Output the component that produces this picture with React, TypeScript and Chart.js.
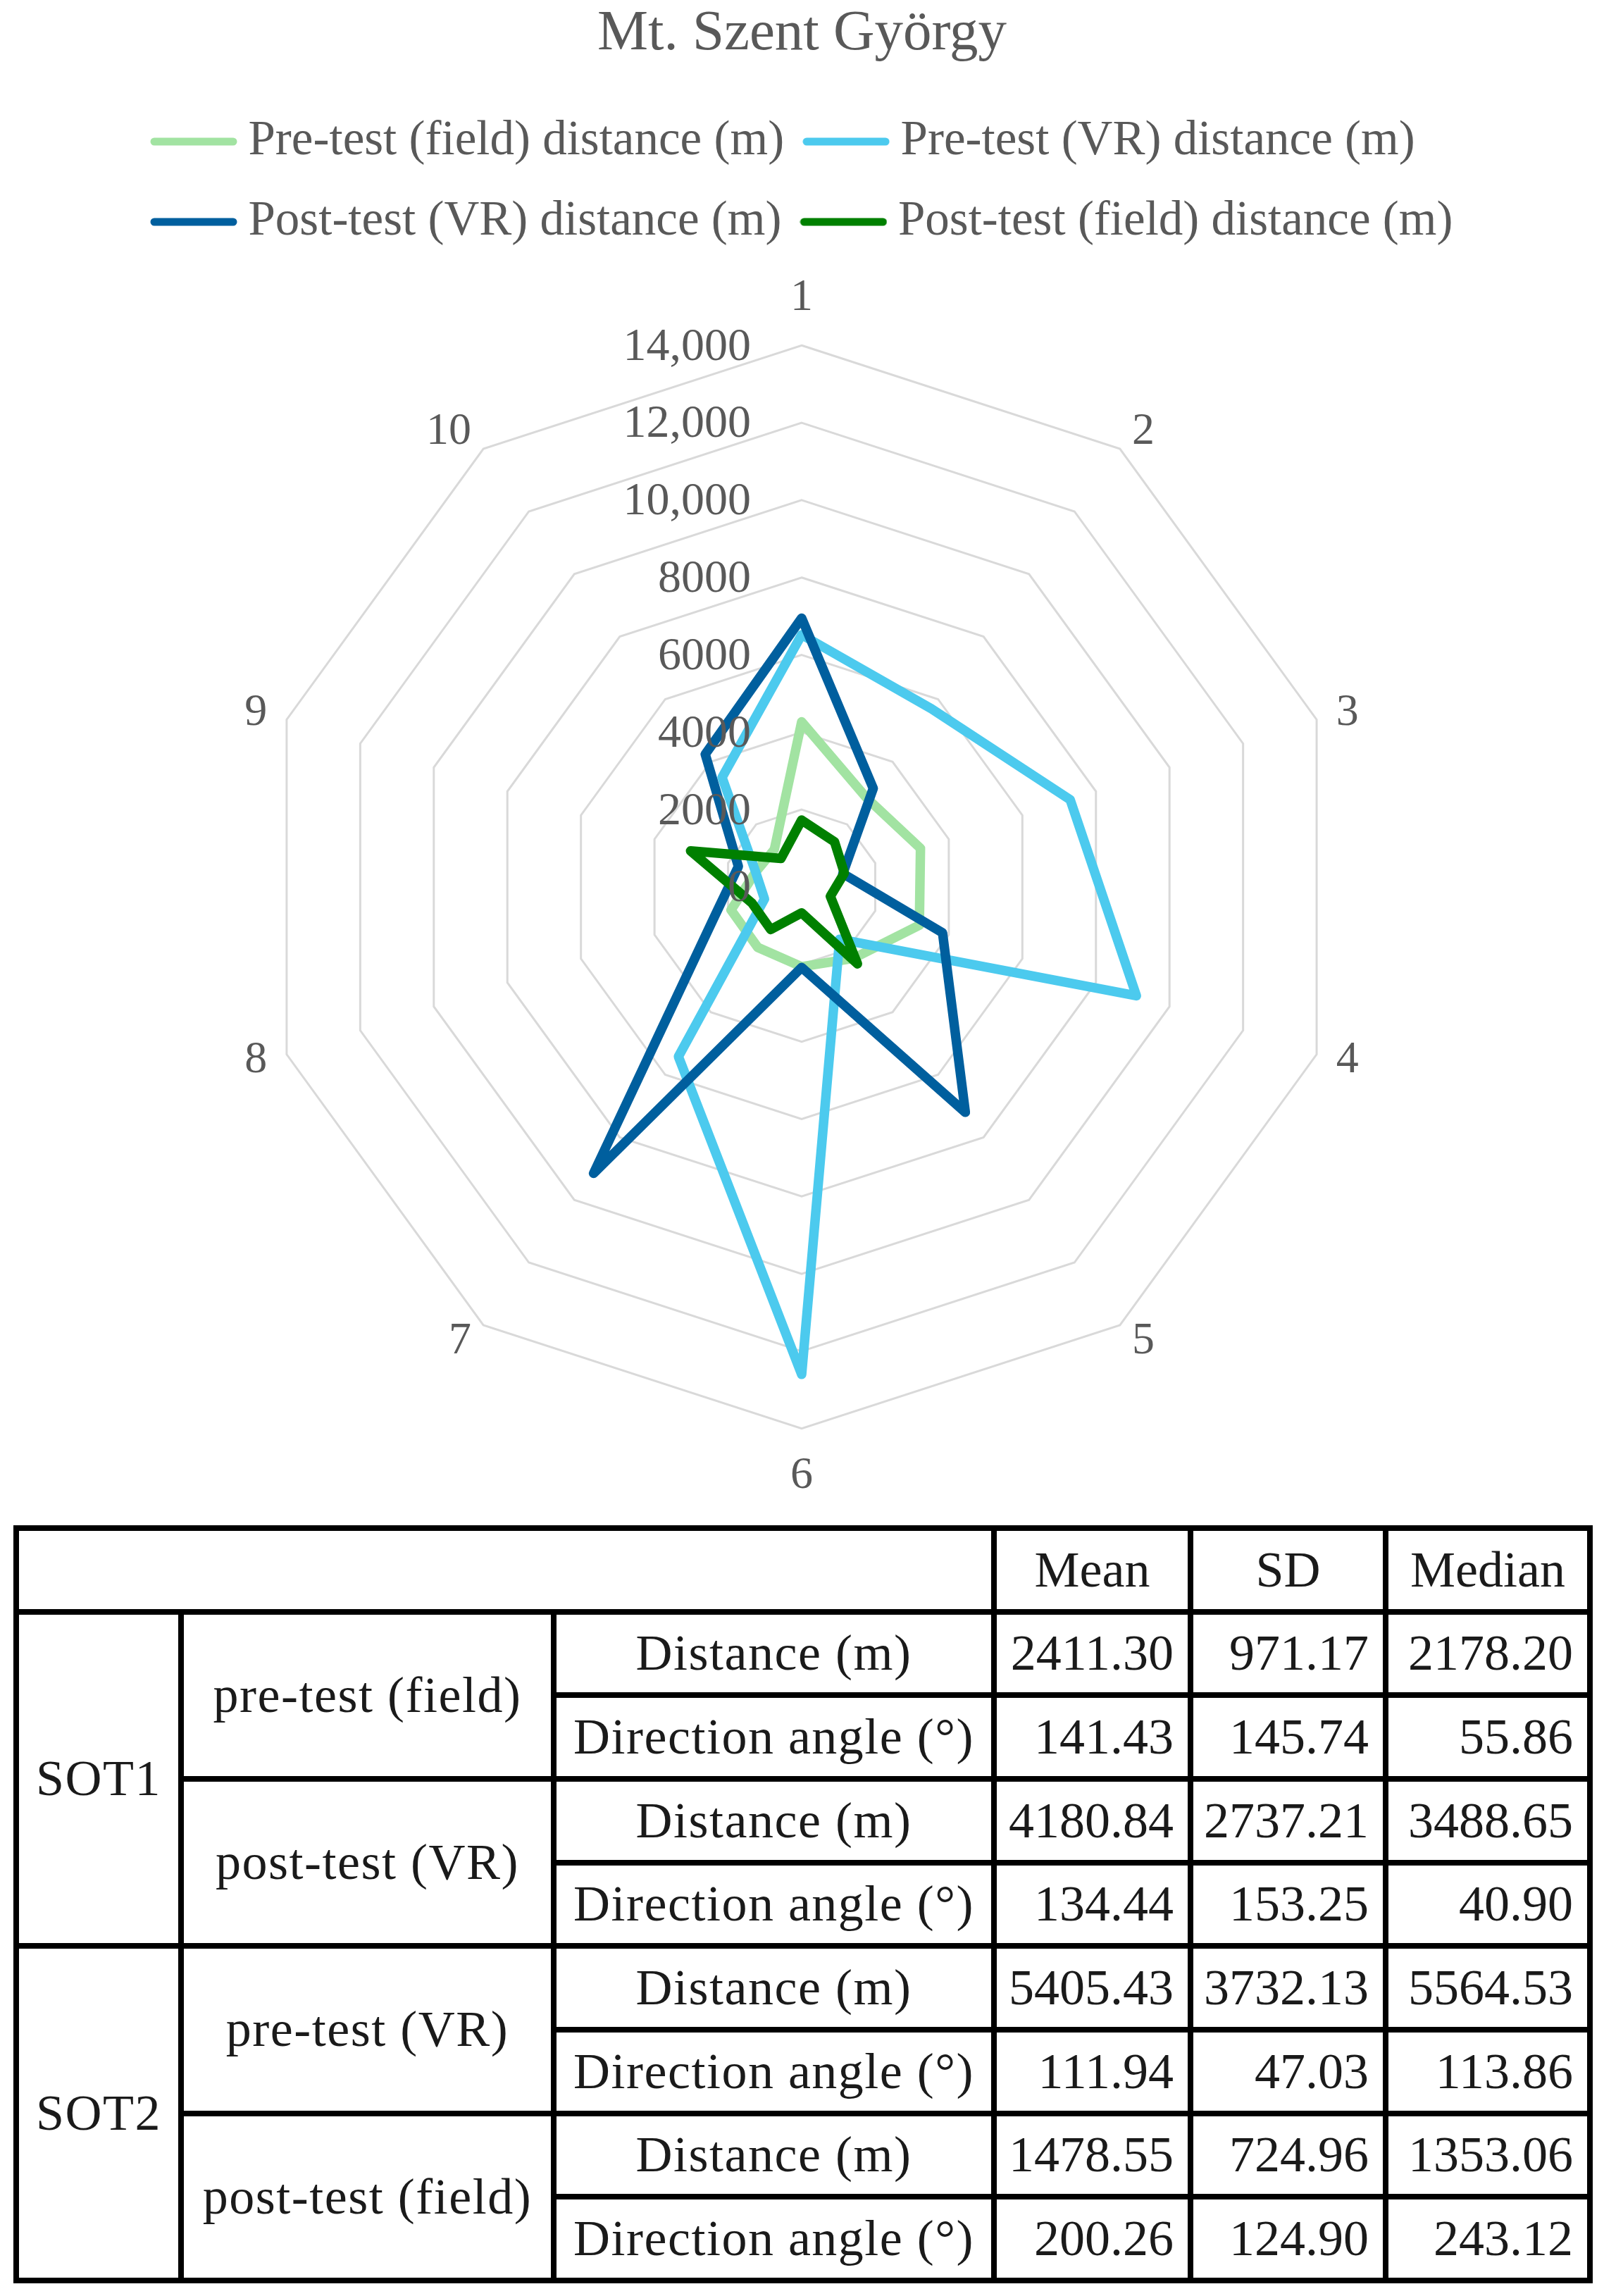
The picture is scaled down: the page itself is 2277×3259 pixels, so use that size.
import React, { useEffect, useRef } from 'react';
import { Chart, registerables } from 'chart.js';

Chart.register(...registerables);

// ---------- chart data ----------
const categories = ['1', '2', '3', '4', '5', '6', '7', '8', '9', '10'];
const seriesNames = [
  'Pre-test (field) distance (m)',
  'Pre-test (VR) distance (m)',
  'Post-test (VR) distance (m)',
  'Post-test (field) distance (m)',
];
const preFieldDistance = [4270, 2850, 3230, 3200, 2280, 2060, 1930, 1920, 1250, 1200];
const preVRDistance = [6520, 5700, 7300, 9100, 1670, 12600, 5420, 1010, 1250, 3500];
const postVRDistance = [6950, 3150, 1120, 3830, 7200, 2080, 9150, 2350, 1720, 4240];
const postFieldDistance = [1730, 1445, 1160, 780, 2455, 670, 1360, 1350, 3020, 910];
const seriesColors = ['#a2e3a2', '#4ccaee', '#005f9e', '#008000'];
const tickLabels = ['0', '2000', '4000', '6000', '8000', '10,000', '12,000', '14,000'];

// ---------- table data ----------
const statHeaders = ['Mean', 'SD', 'Median'];
const sotGroups = ['SOT1', 'SOT2'];
const testNames = ['pre-test (field)', 'post-test (VR)', 'pre-test (VR)', 'post-test (field)'];
const measureNames = ['Distance (m)', 'Direction angle (°)'];
const meanValues = ['2411.30', '141.43', '4180.84', '134.44', '5405.43', '111.94', '1478.55', '200.26'];
const sdValues = ['971.17', '145.74', '2737.21', '153.25', '3732.13', '47.03', '724.96', '124.90'];
const medianValues = ['2178.20', '55.86', '3488.65', '40.90', '5564.53', '113.86', '1353.06', '243.12'];

const FONT = '"Liberation Serif", "Times New Roman", serif';
const GREY = '#595959';

const leftTicksPlugin = {
  id: 'leftTicks',
  afterDatasetsDraw(chart: any) {
    const s = chart.scales.r;
    const ctx = chart.ctx;
    ctx.save();
    ctx.font = '66px "Liberation Serif"';
    ctx.fillStyle = GREY;
    ctx.textAlign = 'right';
    ctx.textBaseline = 'middle';
    s.ticks.forEach((t: any) => {
      const d = s.getDistanceFromCenterForValue(t.value);
      ctx.fillText(String(t.label), s.xCenter - 72, s.yCenter - d + 3);
    });
    ctx.restore();
  },
};

// legend rows start at the same x (grid-like legend as in the reference)
const legendOffsetPlugin = {
  id: 'legendOffset',
  afterLayout(chart: any) {
    if (chart.legend) chart.legend.left = 179;
  },
};

function makeLegendMarker(color: string) {
  const c = document.createElement('canvas');
  c.width = 124;
  c.height = 12;
  const g = c.getContext('2d') as CanvasRenderingContext2D;
  g.strokeStyle = color;
  g.lineWidth = 11;
  g.lineCap = 'round';
  g.beginPath();
  g.moveTo(6, 6);
  g.lineTo(118, 6);
  g.stroke();
  return c;
}

function RadarChart() {
  const ref = useRef<HTMLCanvasElement | null>(null);
  useEffect(() => {
    if (!ref.current) return;
    const values = [preFieldDistance, preVRDistance, postVRDistance, postFieldDistance];
    const chart = new Chart(ref.current, {
      type: 'radar',
      data: {
        labels: categories,
        datasets: values.map((v, i) => ({
          label: seriesNames[i],
          data: v,
          borderColor: seriesColors[i],
          backgroundColor: seriesColors[i],
          borderWidth: 13.5,
          fill: false,
          pointRadius: 0,
          pointHoverRadius: 0,
          pointStyle: makeLegendMarker(seriesColors[i]),
          borderJoinStyle: 'round',
          borderCapStyle: 'round',
          order: 3 - i,
        })),
      },
      options: {
        responsive: true,
        maintainAspectRatio: false,
        animation: false,
        devicePixelRatio: 1,
        layout: { padding: 0 },
        plugins: {
          title: {
            display: true,
            text: 'Mt. Szent György',
            color: GREY,
            font: { family: FONT, size: 81, weight: 'normal', lineHeight: 1 },
            padding: { top: 0, bottom: 32.5 },
          },
          legend: {
            display: true,
            position: 'top',
            align: 'start',
            labels: {
              color: GREY,
              font: { family: FONT, size: 69 },
              usePointStyle: true,
              pointStyleWidth: 86,
              boxHeight: 12,
              padding: 45,
              sort: (a: any, b: any) => a.datasetIndex - b.datasetIndex,
            },
          },
          subtitle: {
            display: true,
            text: '',
            weight: 500,
            font: { size: 1, lineHeight: 1 },
            padding: { top: 0, bottom: 24 },
          },
          tooltip: { enabled: false },
        },
        scales: {
          r: {
            min: 0,
            max: 14000,
            ticks: {
              stepSize: 2000,
              display: false,
              callback: (_v: any, i: number) => tickLabels[i],
            },
            grid: { color: '#d9d9d9', lineWidth: 3 },
            angleLines: { display: false },
            pointLabels: {
              color: GREY,
              font: { family: FONT, size: 64 },
              padding: 29,
            },
            afterFit: (scale: any) => {
              const items = scale._pointLabelItems;
              if (!items) return;
              items.forEach((it: any, i: number) => {
                const deg = Math.round((scale.getIndexAngle(i) * 180) / Math.PI) % 360;
                const h = it.bottom - it.top;
                let dy = 0;
                if ((deg > 0 && deg < 90) || (deg > 270 && deg < 360)) dy = h / 2;
                else if (deg > 90 && deg < 270 && deg !== 180) dy = -h / 2;
                it.y += dy;
                it.top += dy;
                it.bottom += dy;
              });
            },
          },
        },
      } as any,
      plugins: [leftTicksPlugin, legendOffsetPlugin],
    });
    return () => chart.destroy();
  }, []);
  return (
    <div style={{ position: 'relative', width: 2261, height: 2126 }}>
      <canvas ref={ref} />
    </div>
  );
}

const cell: React.CSSProperties = {
  borderRight: '8px solid #000',
  borderBottom: '8px solid #000',
  padding: 0,
  fontFamily: FONT,
  fontSize: 72,
  color: '#1a1a1a',
  verticalAlign: 'middle',
  whiteSpace: 'nowrap',
  lineHeight: 'normal',
};
const textCell: React.CSSProperties = { ...cell, textAlign: 'center', letterSpacing: 1.5 };
const numCell: React.CSSProperties = { ...cell, textAlign: 'right', paddingRight: 20 };

function StatsTable() {
  const rows: React.ReactNode[] = [];
  rows.push(
    <tr key="h" style={{ height: 118.67 }}>
      <td colSpan={3} style={cell}></td>
      {statHeaders.map((h) => (
        <td key={h} style={{ ...cell, textAlign: 'center' }}>{h}</td>
      ))}
    </tr>
  );
  for (let r = 0; r < 8; r++) {
    const g = Math.floor(r / 4);
    const t = Math.floor(r / 2);
    rows.push(
      <tr key={r} style={{ height: 118.67 }}>
        {r % 4 === 0 && (
          <td rowSpan={4} style={textCell}>{sotGroups[g]}</td>
        )}
        {r % 2 === 0 && (
          <td rowSpan={2} style={textCell}>{testNames[t]}</td>
        )}
        <td style={textCell}>{measureNames[r % 2]}</td>
        <td style={numCell}>{meanValues[r]}</td>
        <td style={numCell}>{sdValues[r]}</td>
        <td style={numCell}>{medianValues[r]}</td>
      </tr>
    );
  }
  return (
    <table
      style={{
        borderCollapse: 'separate',
        borderSpacing: 0,
        borderTop: '8px solid #000',
        borderLeft: '8px solid #000',
        tableLayout: 'fixed',
        width: 2242,
        marginLeft: 11,
        marginTop: 31,
      }}
    >
      <colgroup>
        <col style={{ width: 234 }} />
        <col style={{ width: 529 }} />
        <col style={{ width: 625 }} />
        <col style={{ width: 279 }} />
        <col style={{ width: 277 }} />
        <col style={{ width: 290 }} />
      </colgroup>
      <tbody>{rows}</tbody>
    </table>
  );
}

export default function App() {
  return (
    <div style={{ width: 2261, background: '#fff' }}>
      <RadarChart />
      <StatsTable />
    </div>
  );
}
